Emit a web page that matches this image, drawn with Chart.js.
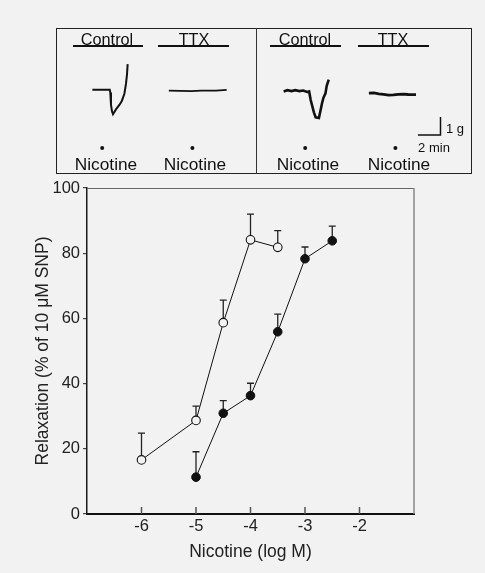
<!DOCTYPE html>
<html>
<head>
<meta charset="utf-8">
<script src="https://cdn.jsdelivr.net/npm/chart.js@4.4.1/dist/chart.umd.min.js"></script>
<style>
  html, body { margin: 0; padding: 0; background: #f2f2f2; }
  body { width: 485px; height: 573px; position: relative; overflow: hidden;
         font-family: "Liberation Sans", Arial, sans-serif; color: #111; }
  #panel { position: absolute; left: 56px; top: 28px; width: 416px; height: 146px;
           box-sizing: border-box; border: 1px solid #222; }
  #divider { position: absolute; left: 256px; top: 28px; width: 1px; height: 146px; background: #333; }
  .lbl { position: absolute; white-space: nowrap; line-height: 1; transform: translateX(-50%); }
  .rule { position: absolute; height: 1.5px; background: #111; }
  canvas { position: absolute; }
</style>
</head>
<body>
<div id="panel"></div>
<div id="divider"></div>
<canvas id="traces" width="415" height="145" style="left:56px;top:28px"></canvas>
<canvas id="main" width="485" height="398" style="left:0;top:175px"></canvas>
<script>
// ---- dose-response data (log M vs % relaxation, mean and SEM) ----
var doseOpen = [-6, -5, -4.5, -4, -3.5];
var relaxOpen = [16.6, 28.7, 58.7, 84.1, 81.8];
var semOpen = [8.2, 4.4, 6.9, 7.9, 5.1];

var doseFilled = [-5, -4.5, -4, -3.5, -3, -2.5];
var relaxFilled = [11.3, 30.9, 36.3, 55.9, 78.3, 83.8];
var semFilled = [7.8, 3.9, 3.8, 5.4, 3.6, 4.5];

var xTicks = [-6, -5, -4, -3, -2];
var yTicks = [0, 20, 40, 60, 80, 100];

// ---- tension traces (time in min, tension in g) ----
var ctlLeftT = [2.87, 4.41, 4.46, 4.52, 4.61, 4.70, 4.96, 5.28, 5.48, 5.71, 5.85, 5.94, 6.0];
var ctlLeftG = [4.42, 4.42, 4.26, 3.58, 3.21, 3.05, 3.32, 3.58, 3.79, 4.19, 4.74, 5.26, 5.84];
var ttxLeftT = [9.65, 11.65, 12.52, 13.83, 14.78];
var ttxLeftG = [4.37, 4.34, 4.37, 4.37, 4.41];
var ctlRightT = [19.83, 20.17, 20.52, 20.87, 21.22, 21.57, 21.91, 22.09, 22.23, 22.52, 22.67, 22.96, 23.24, 23.35, 23.54, 23.65, 23.83];
var ctlRightG = [4.32, 4.39, 4.34, 4.39, 4.34, 4.37, 4.29, 4.32, 3.84, 3.14, 2.88, 2.84, 3.68, 3.95, 4.21, 4.63, 4.98];
var ttxRightT = [27.39, 27.83, 28.26, 28.7, 29.13, 29.57, 30.0, 30.43, 30.87, 31.57];
var ttxRightG = [4.23, 4.24, 4.18, 4.16, 4.11, 4.13, 4.16, 4.17, 4.15, 4.14];
var nicotineT = [3.74, 11.74, 21.74, 29.74];

function pts(xs, ys) {
    return xs.map(function (x, i) { return { x: x, y: ys[i] }; });
}

// labels of the trace panel
function label(text, cx, baseline, size) {
    var d = document.createElement('div');
    d.className = 'lbl';
    d.textContent = text;
    d.style.fontSize = size + 'px';
    d.style.left = cx + 'px';
    d.style.top = (baseline - 0.8465 * size) + 'px';
    document.body.appendChild(d);
}
function rule(x0, x1, y) {
    var d = document.createElement('div');
    d.className = 'rule';
    d.style.left = x0 + 'px';
    d.style.width = (x1 - x0) + 'px';
    d.style.top = y + 'px';
    document.body.appendChild(d);
}
label('Control', 107, 45, 16.3); rule(73, 143, 45);
label('TTX', 194, 45, 16.3); rule(158, 229, 45);
label('Control', 305, 45, 16.3); rule(270, 341, 45);
label('TTX', 393, 45, 16.3); rule(358, 429, 45);
[106, 195, 308, 399].forEach(function (cx) { label('Nicotine', cx, 170.7, 17.3); });
label('1 g', 455, 133, 13);
label('2 min', 434, 151.7, 13);

// scale bar drawn with the trace scales: 2 min x 1 g
var scaleBar = {
    id: 'scaleBar',
    afterDatasetsDraw: function (chart) {
        var x = chart.scales.x, y = chart.scales.y, ctx = chart.ctx;
        var t0 = 33.74, g0 = 1.89;
        ctx.save();
        ctx.strokeStyle = '#111';
        ctx.lineWidth = 1.5;
        ctx.beginPath();
        ctx.moveTo(x.getPixelForValue(t0 - 2), y.getPixelForValue(g0));
        ctx.lineTo(x.getPixelForValue(t0), y.getPixelForValue(g0));
        ctx.lineTo(x.getPixelForValue(t0), y.getPixelForValue(g0 + 1));
        ctx.stroke();
        ctx.restore();
    }
};

function trace(xs, ys, w) {
    return { data: pts(xs, ys), showLine: true, borderColor: '#111', borderWidth: w,
             pointRadius: 0, tension: 0 };
}

new Chart(document.getElementById('traces'), {
    type: 'scatter',
    data: {
        datasets: [
            trace(ctlLeftT, ctlLeftG, 2),
            trace(ttxLeftT, ttxLeftG, 1.8),
            trace(ctlRightT, ctlRightG, 2.6),
            trace(ttxRightT, ttxRightG, 2.8),
            { data: nicotineT.map(function (t) { return { x: t, y: 1.17 }; }),
              pointRadius: 2, backgroundColor: '#111', borderWidth: 0 }
        ]
    },
    options: {
        responsive: false,
        animation: false,
        layout: { padding: 0 },
        plugins: { legend: { display: false }, tooltip: { enabled: false } },
        scales: {
            x: { type: 'linear', display: false, min: 0, max: 36.09 },
            y: { display: false, min: 0, max: 7.63 }
        }
    },
    plugins: [scaleBar]
});

// upward error bars, frame and inward x ticks
var errorBars = {
    id: 'errorBars',
    beforeDatasetsDraw: function (chart) {
        var ctx = chart.ctx, x = chart.scales.x, y = chart.scales.y, a = chart.chartArea;
        ctx.save();
        // top and right frame
        ctx.strokeStyle = '#666';
        ctx.lineWidth = 1;
        ctx.beginPath();
        ctx.moveTo(a.left, a.top + 0.5);
        ctx.lineTo(a.right, a.top + 0.5);
        ctx.stroke();
        ctx.strokeStyle = '#888';
        ctx.lineWidth = 1.5;
        ctx.beginPath();
        ctx.moveTo(a.right, a.top);
        ctx.lineTo(a.right, a.bottom);
        ctx.stroke();
        // inward ticks on the x axis
        ctx.strokeStyle = '#555';
        ctx.lineWidth = 1.5;
        x.ticks.forEach(function (t) {
            var px = x.getPixelForValue(t.value);
            ctx.beginPath();
            ctx.moveTo(px, a.bottom);
            ctx.lineTo(px, a.bottom - 7);
            ctx.stroke();
        });
        // error bars
        ctx.strokeStyle = '#222';
        ctx.lineWidth = 1.3;
        chart.data.datasets.forEach(function (ds) {
            ds.data.forEach(function (p, i) {
                var px = x.getPixelForValue(p.x);
                var py = y.getPixelForValue(p.y);
                var pt = y.getPixelForValue(p.y + ds.sem[i]);
                ctx.beginPath();
                ctx.moveTo(px, py);
                ctx.lineTo(px, pt);
                ctx.moveTo(px - 3.5, pt);
                ctx.lineTo(px + 3.5, pt);
                ctx.stroke();
            });
        });
        ctx.restore();
    }
};

new Chart(document.getElementById('main'), {
    type: 'scatter',
    data: {
        datasets: [
            { data: pts(doseFilled, relaxFilled), sem: semFilled, showLine: true,
              borderColor: '#111', borderWidth: 1, backgroundColor: '#111',
              pointRadius: 4.3, pointBorderColor: '#111', pointBorderWidth: 1 },
            { data: pts(doseOpen, relaxOpen), sem: semOpen, showLine: true,
              borderColor: '#111', borderWidth: 1, backgroundColor: '#f2f2f2',
              pointRadius: 4.3, pointBorderColor: '#111', pointBorderWidth: 1.1 }
        ]
    },
    options: {
        responsive: false,
        animation: false,
        layout: { padding: { left: 30, right: 71, top: 13, bottom: 10 } },
        plugins: { legend: { display: false }, tooltip: { enabled: false } },
        scales: {
            x: {
                type: 'linear', min: -7, max: -1,
                afterBuildTicks: function (s) { s.ticks = xTicks.map(function (v) { return { value: v }; }); },
                afterFit: function (s) { s.height = 49; },
                grid: { drawOnChartArea: false, drawTicks: false },
                border: { color: '#111', width: 2 },
                ticks: { padding: 3, color: '#222', font: { size: 16.5, family: 'Liberation Sans' } },
                title: { display: true, text: 'Nicotine (log M)', color: '#222',
                         font: { size: 17.5, family: 'Liberation Sans' }, padding: { top: 0, bottom: 0 } }
            },
            y: {
                min: 0, max: 100,
                afterBuildTicks: function (s) { s.ticks = yTicks.map(function (v) { return { value: v }; }); },
                afterFit: function (s) { s.width = 57; },
                grid: { drawOnChartArea: false, drawTicks: true, tickLength: 4, color: '#444', lineWidth: 1.2 },
                border: { color: '#1a1a1a', width: 1.5 },
                ticks: { padding: 3, color: '#222', font: { size: 16.5, family: 'Liberation Sans' } },
                title: { display: true, text: 'Relaxation (% of 10 μM SNP)', color: '#222',
                         font: { size: 17.5, family: 'Liberation Sans' }, padding: { top: 3, bottom: 0 } }
            }
        }
    },
    plugins: [errorBars]
});
</script>
</body>
</html>
